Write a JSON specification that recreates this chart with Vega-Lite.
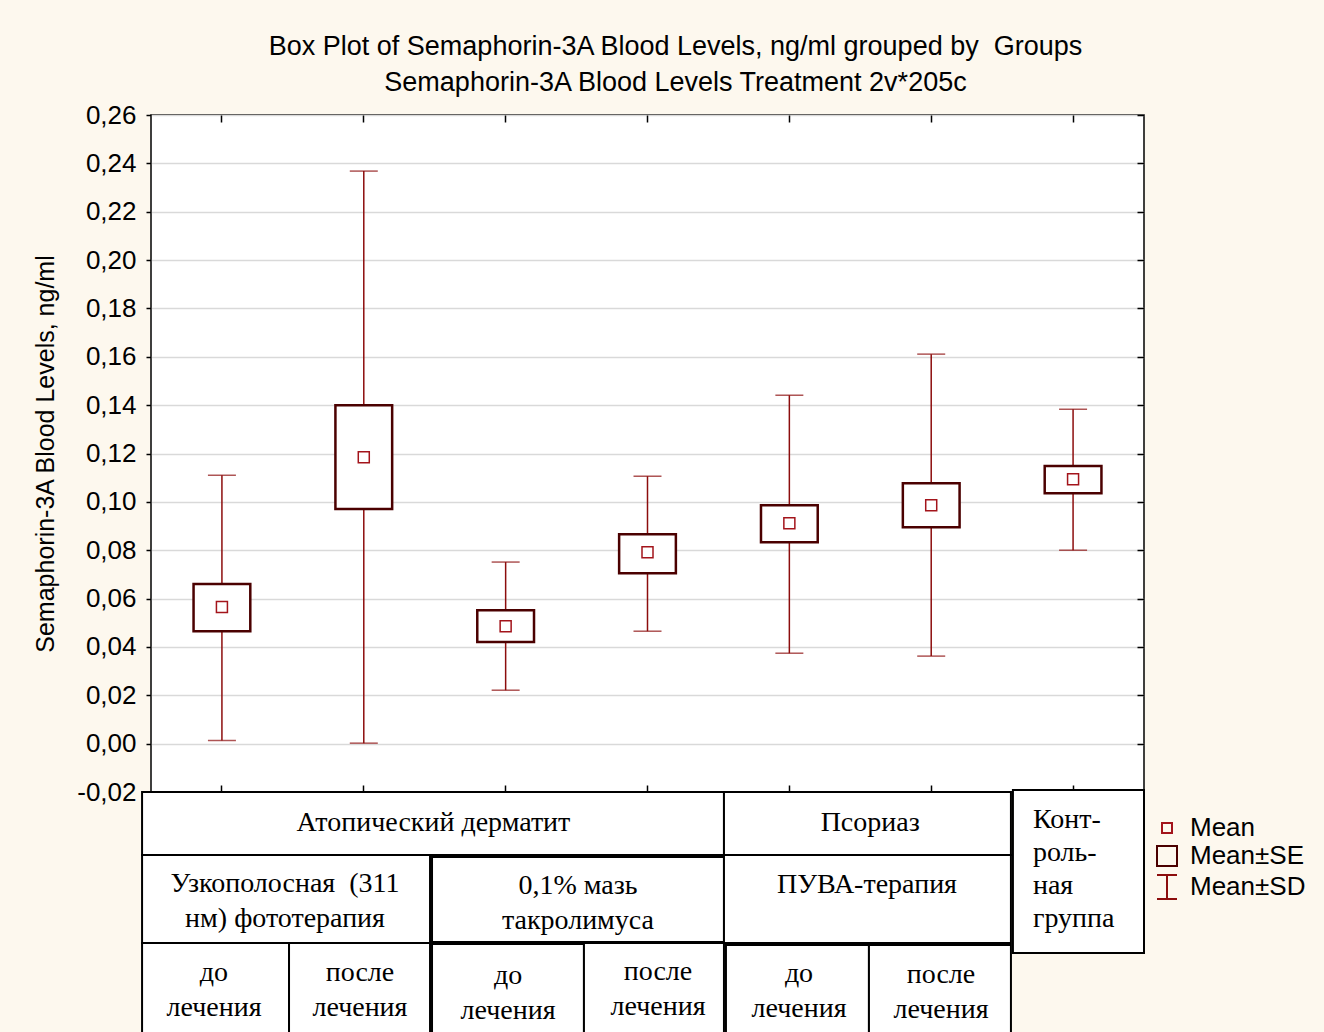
{
  "$schema": "https://vega.github.io/schema/vega-lite/v6.json",
  "background": "#fdf8ee",
  "padding": {"left": 32, "top": 32, "right": 20, "bottom": 0},
  "bounds": "flush",
  "spacing": 0,
  "config": {
    "font": "Liberation Sans",
    "axis": {"labelFont": "Liberation Sans", "titleFont": "Liberation Sans"},
    "legend": {"labelFont": "Liberation Sans"}
  },
  "vconcat": [
    {
      "width": 993,
      "height": 677,
      "view": {"fill": "white", "stroke": "black", "strokeWidth": 1.5},
      "title": {
        "text": ["Box Plot of Semaphorin-3A Blood Levels, ng/ml grouped by\u00a0 Groups", "Semaphorin-3A Blood Levels Treatment 2v*205c"],
        "fontSize": 27, "font": "Liberation Sans", "fontWeight": "normal", "color": "black",
        "anchor": "middle", "frame": "group", "dx": 28, "lineHeight": 36, "offset": 5
      },
      "data": {"values": [
        {"grp": "АД УФ-311 до лечения", "mean": 0.0565, "se_lo": 0.0465, "se_hi": 0.066, "sd_lo": 0.0013, "sd_hi": 0.111},
        {"grp": "АД УФ-311 после лечения", "mean": 0.1185, "se_lo": 0.097, "se_hi": 0.140, "sd_lo": 0.0002, "sd_hi": 0.2368},
        {"grp": "АД такролимус до лечения", "mean": 0.0486, "se_lo": 0.042, "se_hi": 0.0552, "sd_lo": 0.0221, "sd_hi": 0.0751},
        {"grp": "АД такролимус после лечения", "mean": 0.0792, "se_lo": 0.0705, "se_hi": 0.0866, "sd_lo": 0.0465, "sd_hi": 0.1106},
        {"grp": "Псориаз ПУВА до лечения", "mean": 0.0912, "se_lo": 0.0833, "se_hi": 0.0986, "sd_lo": 0.0374, "sd_hi": 0.1441},
        {"grp": "Псориаз ПУВА после лечения", "mean": 0.0986, "se_lo": 0.0895, "se_hi": 0.1077, "sd_lo": 0.0362, "sd_hi": 0.1611},
        {"grp": "Контрольная группа", "mean": 0.1094, "se_lo": 0.1036, "se_hi": 0.1148, "sd_lo": 0.080, "sd_hi": 0.1383}
      ]},
      "layer": [
        {
          "mark": {"type": "rule", "color": "#8c0d0d", "strokeWidth": 1.5},
          "encoding": {
            "x": {"field": "grp", "type": "nominal", "sort": null,
                  "scale": {"type": "band", "paddingInner": 0, "paddingOuter": 0},
                  "axis": {"orient": "bottom", "labels": false, "domain": false, "ticks": true, "tickSize": 7, "offset": -7, "tickColor": "black", "tickWidth": 1.5, "title": null, "grid": false}},
            "y": {"field": "sd_lo", "type": "quantitative",
                  "scale": {"domain": [-0.02, 0.26], "nice": false, "zero": false},
                  "axis": {"orient": "left", "values": [-0.02, 0, 0.02, 0.04, 0.06, 0.08, 0.1, 0.12, 0.14, 0.16, 0.18, 0.2, 0.22, 0.24, 0.26],
                           "labelExpr": "replace(replace(format(datum.value, '.2f'), '.', ','), '\u2212', '-')",
                           "labelFontSize": 26, "labelColor": "black", "labelPadding": 10,
                           "tickSize": 5, "tickColor": "black", "tickWidth": 1.5, "domain": false,
                           "grid": true, "gridColor": "#d9d9d9", "gridWidth": 1.5,
                           "title": "Semaphorin-3A Blood Levels, ng/ml", "titleFontSize": 25, "titleFontWeight": "normal", "titleColor": "black", "titlePadding": 18}},
            "y2": {"field": "sd_hi"}
          }
        },
        {
          "mark": {"type": "tick", "color": "#8c0d0d", "size": 28, "thickness": 1.5},
          "encoding": {
            "x": {"field": "grp", "type": "nominal", "sort": null,
                  "axis": {"orient": "top", "labels": false, "domain": false, "ticks": true, "tickSize": 7, "offset": -7, "tickColor": "black", "tickWidth": 1.5, "title": null, "grid": false}},
            "y": {"field": "sd_lo", "type": "quantitative",
                  "axis": {"orient": "right", "values": [-0.02, 0, 0.02, 0.04, 0.06, 0.08, 0.1, 0.12, 0.14, 0.16, 0.18, 0.2, 0.22, 0.24, 0.26],
                           "labels": false, "domain": false, "grid": false, "tickSize": 7, "offset": -7, "tickColor": "black", "tickWidth": 1.5, "title": null}}
          }
        },
        {
          "mark": {"type": "tick", "color": "#8c0d0d", "size": 28, "thickness": 1.5},
          "encoding": {
            "x": {"field": "grp", "type": "nominal", "sort": null, "axis": null},
            "y": {"field": "sd_hi", "type": "quantitative", "axis": null}
          }
        },
        {
          "mark": {"type": "bar", "fill": "white", "stroke": "#4b0000", "strokeWidth": 2.5, "width": {"band": 0.4}},
          "encoding": {
            "x": {"field": "grp", "type": "nominal", "sort": null, "axis": null},
            "y": {"field": "se_lo", "type": "quantitative", "axis": null},
            "y2": {"field": "se_hi"}
          }
        },
        {
          "mark": {"type": "point", "filled": false, "size": 484, "strokeWidth": 1.5, "opacity": 1},
          "encoding": {
            "x": {"field": "grp", "type": "nominal", "sort": null, "axis": null},
            "y": {"field": "mean", "type": "quantitative", "axis": null},
            "shape": {"datum": "Mean", "type": "nominal",
                      "scale": {"domain": ["Mean", "Mean±SE", "Mean±SD"], "range": ["M-0.5,-0.5H0.5V0.5H-0.5Z", "M-1,-1H1V1H-1Z", "M-1,-1.2H1M0,-1.2V1.2M-1,1.2H1"]},
                      "legend": {"title": null, "orient": "none", "legendX": 1003, "legendY": 700, "labelFontSize": 26, "labelColor": "black", "symbolSize": 400, "symbolStrokeWidth": 2, "labelOffset": 10, "rowPadding": 1}},
            "stroke": {"datum": "Mean", "type": "nominal",
                       "scale": {"domain": ["Mean", "Mean±SE", "Mean±SD"], "range": ["#a3141b", "#4b0000", "#8c0d0d"]},
                       "legend": {"title": null, "orient": "none", "legendX": 1003, "legendY": 700, "labelFontSize": 26, "labelColor": "black", "symbolSize": 400, "symbolStrokeWidth": 2, "labelOffset": 10, "rowPadding": 1}}
          }
        }
      ],
      "resolve": {"axis": {"x": "independent", "y": "independent"}}
    },
    {
      "width": 993,
      "height": 240,
      "view": {"stroke": null, "fill": null},
      "data": {"values": [
        {"label": "Атопический дерматит", "c0": -0.063, "c1": 4.039, "r0": 0, "r1": 0.7875, "cx": 1.991, "cy": 0.39},
        {"label": "Псориаз", "c0": 4.039, "c1": 6.062, "r0": 0, "r1": 0.7875, "cx": 5.07, "cy": 0.39},
        {"label": "Контрольная группа", "c0": 6.076, "c1": 7.0, "r0": -0.025, "r1": 2.0125},
        {"label": "Узкополосная\u00a0 (311\nнм) фототерапия", "c0": -0.063, "c1": 1.967, "r0": 0.7875, "r1": 1.8875, "cx": 0.945, "cy": 1.15},
        {"label": "0,1% мазь\nтакролимуса", "c0": 1.981, "c1": 4.039, "r0": 0.8125, "r1": 1.875, "cx": 3.01, "cy": 1.175},
        {"label": "ПУВА-терапия", "c0": 4.039, "c1": 6.062, "r0": 0.7875, "r1": 1.8875, "cx": 5.047, "cy": 1.1625},
        {"label": "до\nлечения", "c0": -0.063, "c1": 0.973, "r0": 1.8875, "r1": 3.1, "cx": 0.444, "cy": 2.2625},
        {"label": "после\nлечения", "c0": 0.973, "c1": 1.967, "r0": 1.8875, "r1": 3.1, "cx": 1.473, "cy": 2.2625},
        {"label": "до\nлечения", "c0": 1.981, "c1": 3.052, "r0": 1.9, "r1": 3.1, "cx": 2.517, "cy": 2.3},
        {"label": "после\nлечения", "c0": 3.052, "c1": 4.039, "r0": 1.8875, "r1": 3.1, "cx": 3.574, "cy": 2.25},
        {"label": "до\nлечения", "c0": 4.053, "c1": 5.061, "r0": 1.9125, "r1": 3.1, "cx": 4.568, "cy": 2.275},
        {"label": "после\nлечения", "c0": 5.061, "c1": 6.062, "r0": 1.9125, "r1": 3.1, "cx": 5.569, "cy": 2.2875}
      ]},
      "layer": [
        {
          "mark": {"type": "rect", "fill": "white", "stroke": "black", "strokeWidth": 2},
          "encoding": {
            "x": {"field": "c0", "type": "quantitative", "scale": {"domain": [0, 7], "nice": false, "zero": false}, "axis": null},
            "x2": {"field": "c1"},
            "y": {"field": "r0", "type": "quantitative", "scale": {"domain": [0, 3], "nice": false, "zero": false, "reverse": true}, "axis": null},
            "y2": {"field": "r1"}
          }
        },
        {
          "transform": [{"filter": {"field": "cx", "valid": true}}],
          "mark": {"type": "text", "font": "Liberation Serif", "fontSize": 28, "lineBreak": "\n", "lineHeight": 35, "baseline": "middle", "align": "center", "color": "black"},
          "encoding": {
            "x": {"field": "cx", "type": "quantitative"},
            "y": {"field": "cy", "type": "quantitative"},
            "text": {"field": "label"}
          }
        },
        {
          "data": {"values": [{"label": "Конт-\nроль-\nная\nгруппа", "cx": 6.217, "cy": 0.35}]},
          "mark": {"type": "text", "font": "Liberation Serif", "fontSize": 28, "lineBreak": "\n", "lineHeight": 33, "baseline": "middle", "align": "left", "color": "black"},
          "encoding": {
            "x": {"field": "cx", "type": "quantitative"},
            "y": {"field": "cy", "type": "quantitative"},
            "text": {"field": "label"}
          }
        }
      ]
    }
  ]
}
